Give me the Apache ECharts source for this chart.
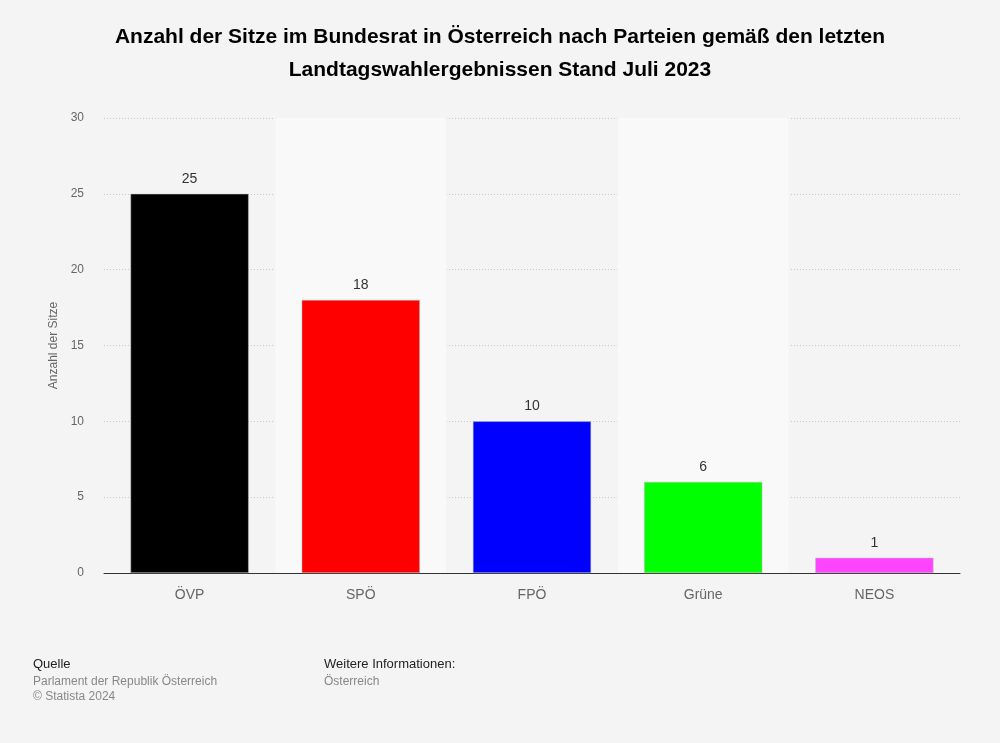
<!DOCTYPE html>
<html><head><meta charset="utf-8">
<script src="https://cdn.jsdelivr.net/npm/echarts@6/dist/echarts.min.js"></script>
<style>html,body{margin:0;padding:0;background:#f4f4f4;}#c{width:1000px;height:743px;}</style>
</head><body><div id="c"></div>
<script>
const categories = ['ÖVP', 'SPÖ', 'FPÖ', 'Grüne', 'NEOS'];
const seats = [25, 18, 10, 6, 1];
const barColors = ['#000000', '#ff0000', '#0000ff', '#00ff00', '#ff44ff'];
const yTicks = [0, 5, 10, 15, 20, 25, 30];

const chart = echarts.init(document.getElementById('c'));
const F = 'Liberation Sans, Arial, Helvetica, sans-serif';
chart.setOption({
  backgroundColor: '#f4f4f4',
  animation: false,
  title: {
    text: 'Anzahl der Sitze im Bundesrat in Österreich nach Parteien gemäß den letzten\nLandtagswahlergebnissen Stand Juli 2023',
    left: 'center', top: 16,
    textStyle: { fontFamily: F, fontSize: 21, fontWeight: 'bold', color: '#000', lineHeight: 33 }
  },
  grid: { left: 104, right: 40, top: 118, bottom: 170 },
  xAxis: {
    type: 'category', data: categories,
    axisLine: { lineStyle: { color: '#333', width: 1 } },
    axisTick: { show: false },
    axisLabel: { fontFamily: F, fontSize: 14, color: '#666', margin: 15 },
    splitArea: { show: true, areaStyle: { color: ['rgba(0,0,0,0)', '#f9f9f9'] } }
  },
  yAxis: {
    type: 'value', min: 0, max: 30, interval: 5,
    name: 'Anzahl der Sitze', nameLocation: 'middle', nameGap: 44, nameRotate: 90,
    nameTextStyle: { fontFamily: F, fontSize: 12, color: '#666' },
    axisLine: { show: false }, axisTick: { show: false },
    axisLabel: { fontFamily: F, fontSize: 12, color: '#666', margin: 20,
      formatter: v => yTicks.includes(v) ? String(v) : '' },
    splitLine: { lineStyle: { color: '#c8c8c8', type: [1, 2], width: 1 } }
  },
  series: [{
    type: 'bar',
    data: seats.map((v, i) => ({ value: v, itemStyle: { color: barColors[i] } })),
    barCategoryGap: '31%',
    itemStyle: { borderColor: '#bbb', borderWidth: 0.5 },
    label: { show: true, position: 'top', distance: 8, fontFamily: F, fontSize: 14, color: '#333' }
  }],
  graphic: [
    { type: 'text', left: 33, top: 658, style: { text: 'Quelle', font: '13px ' + F, fill: '#222' } },
    { type: 'text', left: 33, top: 676, style: { text: 'Parlament der Republik Österreich', font: '12px ' + F, fill: '#888' } },
    { type: 'text', left: 33, top: 691, style: { text: '© Statista 2024', font: '12px ' + F, fill: '#888' } },
    { type: 'text', left: 324, top: 658, style: { text: 'Weitere Informationen:', font: '13px ' + F, fill: '#222' } },
    { type: 'text', left: 324, top: 676, style: { text: 'Österreich', font: '12px ' + F, fill: '#888' } }
  ]
});
</script></body></html>
